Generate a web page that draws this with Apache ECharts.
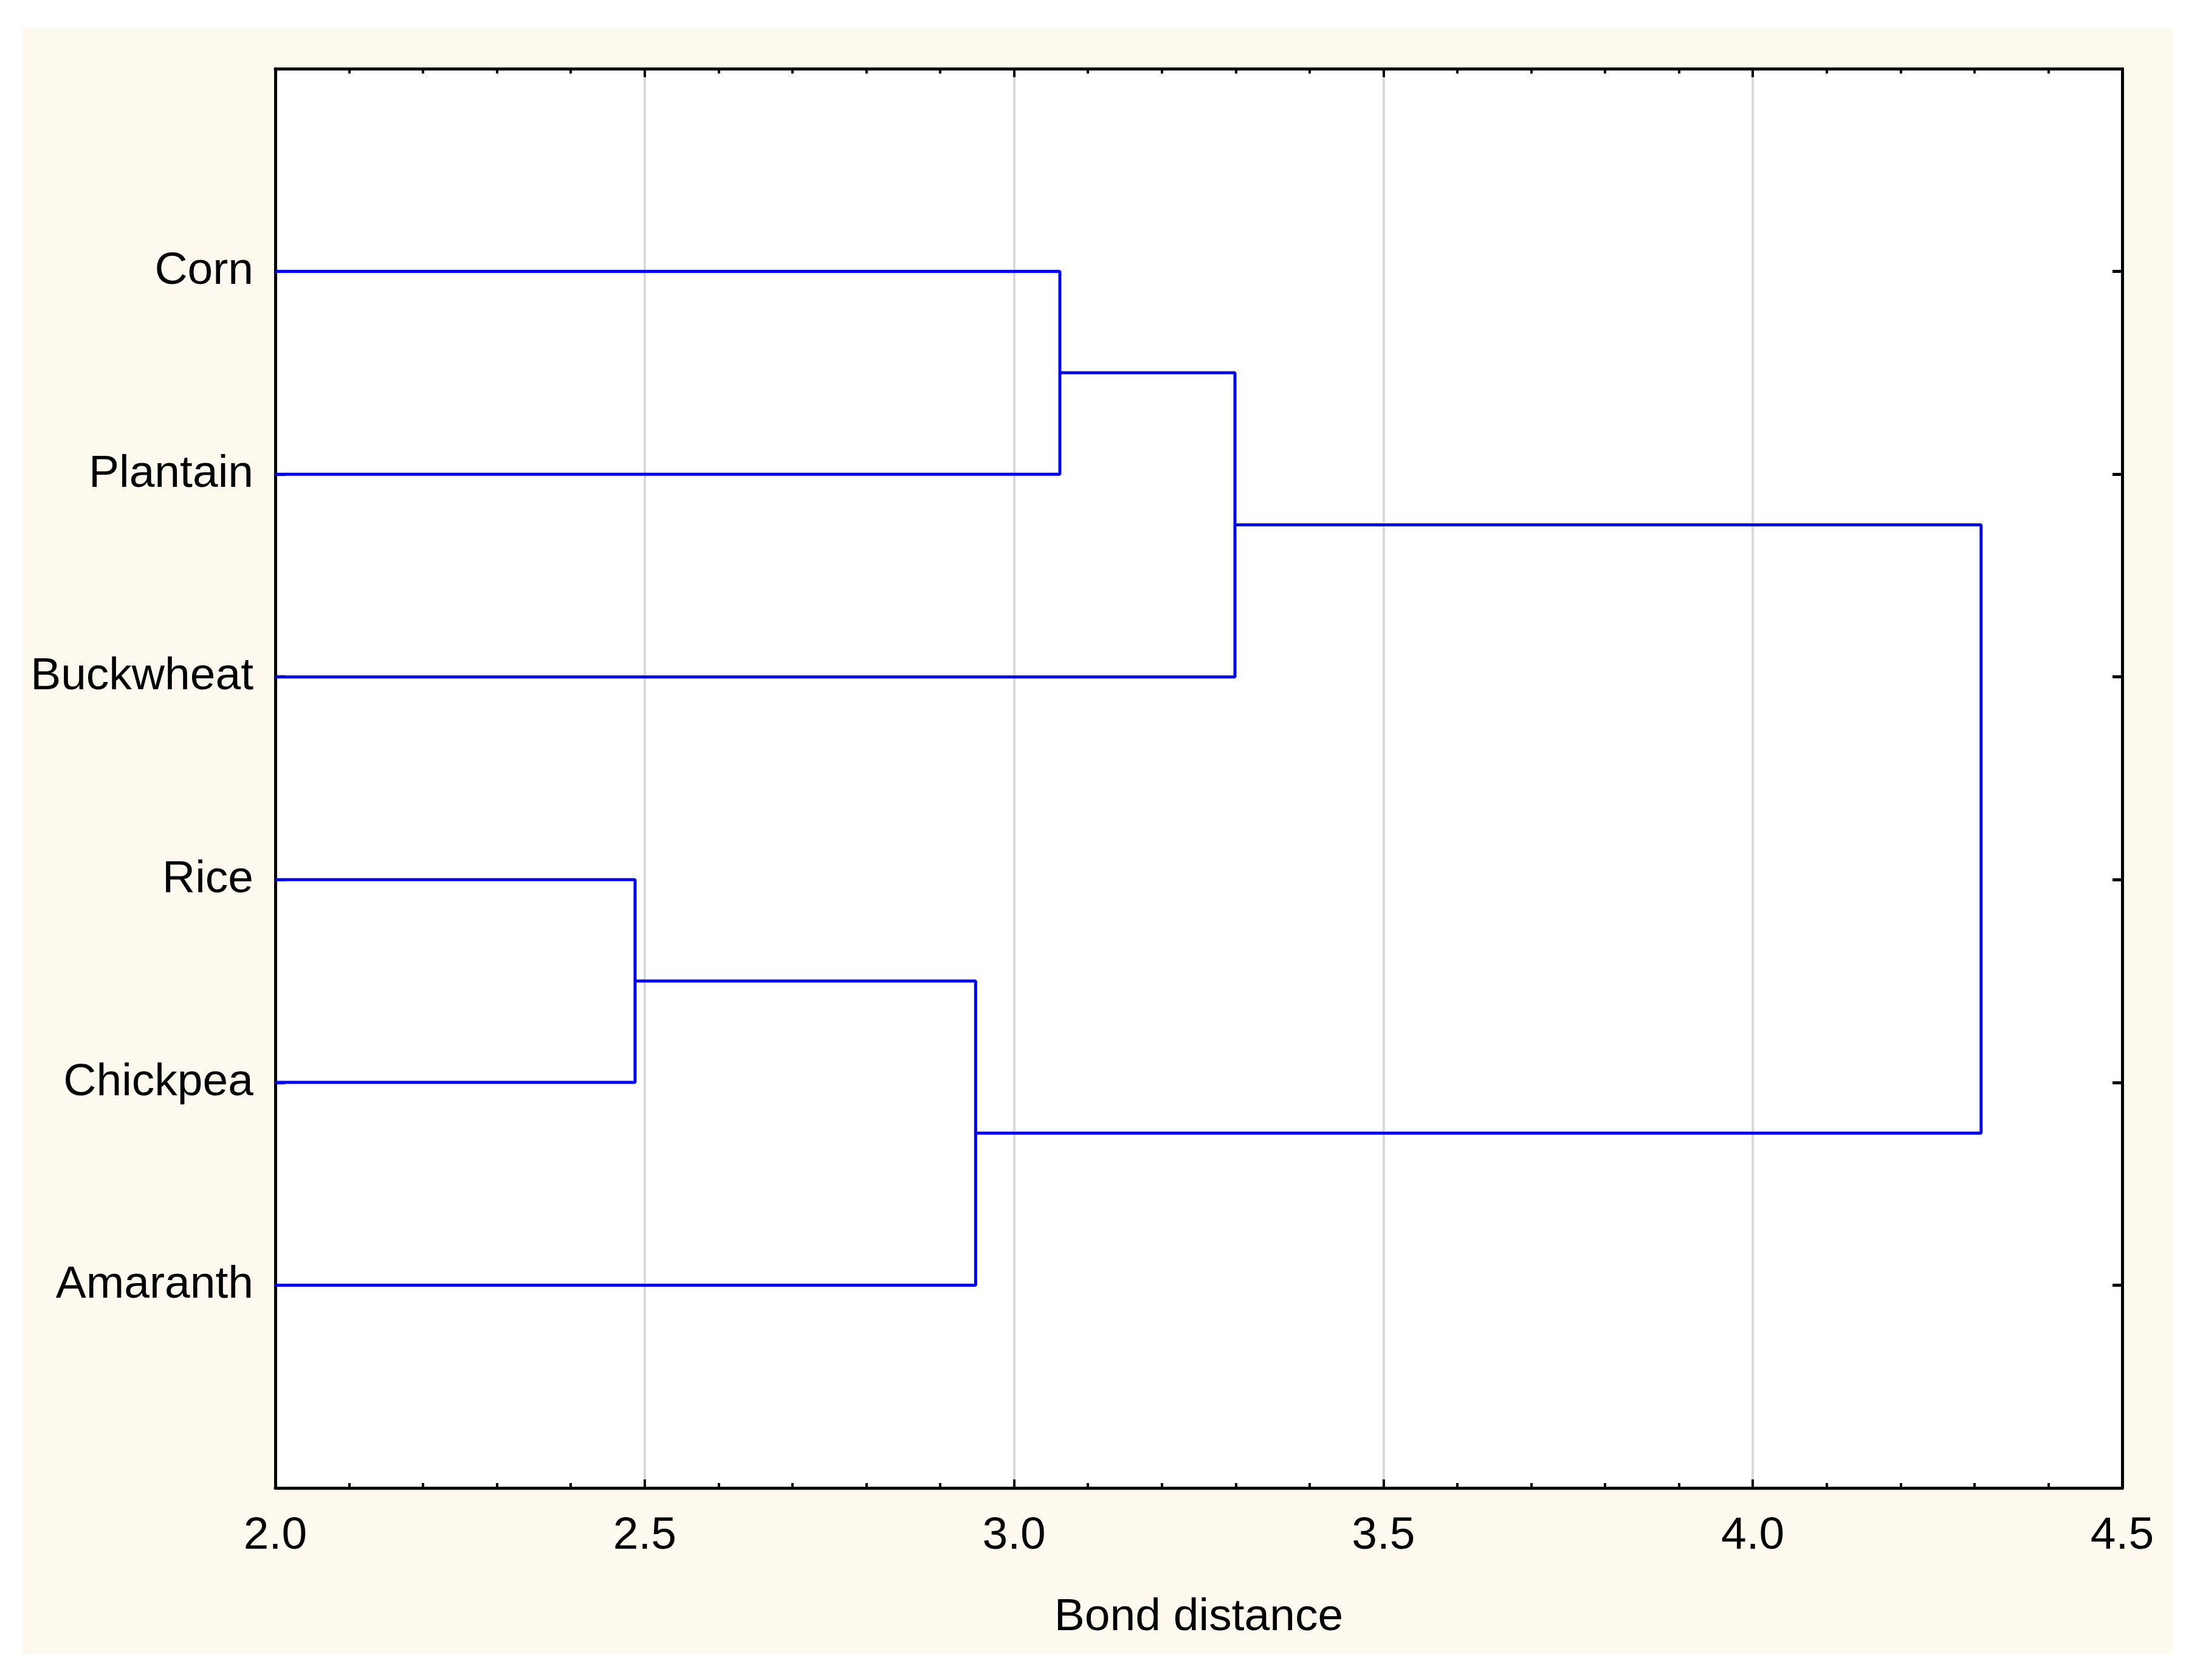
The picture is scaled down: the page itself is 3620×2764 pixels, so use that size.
<!DOCTYPE html>
<html>
<head>
<meta charset="utf-8">
<script src="https://cdn.jsdelivr.net/npm/echarts@6/dist/echarts.min.js"></script>
<style>
  html, body { margin: 0; padding: 0; background: #ffffff; }
  #panel { position: absolute; left: 37px; top: 46px; width: 3538px; height: 2676px; background: #fef9ef; }
  #chart { position: absolute; left: 0; top: 0; width: 3620px; height: 2764px; }
</style>
</head>
<body>
<div id="panel"></div>
<div id="chart"></div>
<script>
// ---- data ----
const leaves = ['Corn', 'Plantain', 'Buckwheat', 'Rice', 'Chickpea', 'Amaranth'];
// merges: cluster ids 0..5 are leaves, each merge creates a new id (6, 7, ...)
const mergeLeft   = [0, 6, 3, 8, 7];
const mergeRight  = [1, 2, 4, 5, 9];
const mergeHeight = [3.062, 3.299, 2.487, 2.948, 4.309];
const xTicks = [2.0, 2.5, 3.0, 3.5, 4.0, 4.5];
const xName = 'Bond distance';

// ---- build dendrogram links from the merge table ----
const xMin = xTicks[0], xMax = xTicks[xTicks.length - 1];
const pos = leaves.map((_, i) => i + 1);
const height = leaves.map(() => xMin);
const series = [];
for (let k = 0; k < mergeHeight.length; k++) {
  const a = mergeLeft[k], b = mergeRight[k], h = mergeHeight[k];
  series.push({
    type: 'line',
    data: [[height[a], pos[a]], [h, pos[a]], [h, pos[b]], [height[b], pos[b]]],
    symbol: 'none',
    lineStyle: { color: '#0000ff', width: 5 },
    z: 3,
    animation: false
  });
  pos.push((pos[a] + pos[b]) / 2);
  height.push(h);
}

const font = 'Liberation Sans, Arial, sans-serif';
const chart = echarts.init(document.getElementById('chart'), null, { renderer: 'canvas' });
const tickStyle = { color: '#000', width: 4 };
chart.setOption({
  backgroundColor: 'transparent',
  animation: false,
  grid: { left: 453, right: 128, top: 113, bottom: 316, show: true, backgroundColor: '#ffffff', borderWidth: 0 },
  xAxis: [{
    type: 'value', min: xMin, max: xMax, interval: 0.5,
    position: 'bottom',
    name: xName, nameLocation: 'middle', nameGap: 176,
    nameTextStyle: { fontFamily: font, fontSize: 75, color: '#000' },
    axisLine: { show: true, onZero: false, lineStyle: { color: '#000', width: 5 } },
    axisTick: { show: true, inside: true, length: 14, lineStyle: tickStyle },
    minorTick: { show: true, splitNumber: 5, length: 8, lineStyle: tickStyle },
    splitLine: { show: true, lineStyle: { color: '#d9d9d9', width: 4 } },
    axisLabel: { fontFamily: font, fontSize: 75, color: '#000', margin: 42, formatter: v => v.toFixed(1) }
  }, {
    type: 'value', min: xMin, max: xMax, interval: 0.5,
    position: 'top',
    axisLine: { show: true, onZero: false, lineStyle: { color: '#000', width: 5 } },
    axisTick: { show: true, inside: true, length: 14, lineStyle: tickStyle },
    minorTick: { show: true, splitNumber: 5, length: 8, lineStyle: tickStyle },
    splitLine: { show: false },
    axisLabel: { show: false }
  }],
  yAxis: [{
    type: 'value', min: 0, max: leaves.length + 1, interval: 1, inverse: true,
    position: 'left',
    axisLine: { show: true, onZero: false, lineStyle: { color: '#000', width: 5 } },
    axisTick: { show: true, inside: true, length: 16, lineStyle: { color: '#000', width: 5 } },
    splitLine: { show: false },
    axisLabel: { fontFamily: font, fontSize: 75, color: '#000', margin: 36,
      formatter: v => (v >= 1 && v <= leaves.length) ? leaves[v - 1] : '' }
  }, {
    type: 'value', min: 0, max: leaves.length + 1, interval: 1, inverse: true,
    position: 'right',
    axisLine: { show: true, onZero: false, lineStyle: { color: '#000', width: 5 } },
    axisTick: { show: true, inside: true, length: 16, lineStyle: { color: '#000', width: 5 } },
    splitLine: { show: false },
    axisLabel: { show: false }
  }],
  series: series
});
</script>
</body>
</html>
